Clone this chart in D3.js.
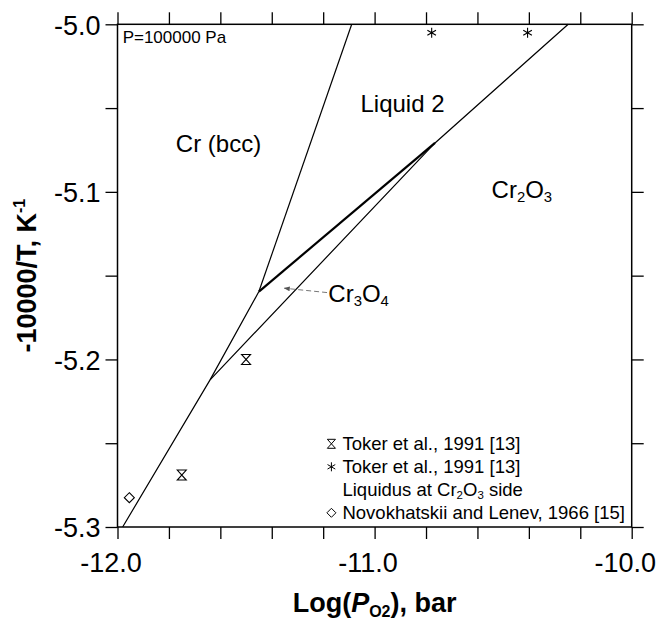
<!DOCTYPE html>
<html>
<head>
<meta charset="utf-8">
<script src="https://cdn.jsdelivr.net/npm/d3@7"></script>
<style>
  body { margin: 0; background: #fff; }
  svg { font-family: "Liberation Sans", Arial, sans-serif; }
</style>
</head>
<body>
<svg class="main-graphic"></svg>
<script>
// phase boundaries, [log pO2, -10000/T]
var crOxideLine = [[-11.980, -5.300], [-11.640, -5.2122], [-11.450, -5.1595]];
var crLiquidLine = [[-11.450, -5.1595], [-11.089, -5.000]];
var oxideLine = [[-11.640, -5.2122], [-10.765, -5.0708], [-10.247, -5.000]];
var cr3o4LiquidLine = [[-11.450, -5.1595], [-10.765, -5.0708]];

// experimental points
var tokerX = [-11.50, -11.75];
var tokerY = [-5.200, -5.269];
var liquidusX = [-10.778, -10.405];
var liquidusY = [-5.005, -5.005];
var novX = [-11.954];
var novY = [-5.2825];

var xTicks = [-12.0, -11.0, -10.0];
var yTicks = [-5.0, -5.1, -5.2, -5.3];

var margin = {top: 24.3, right: 25.3, bottom: 96, left: 117.5},
    width = 657 - margin.left - margin.right,
    height = 623 - margin.top - margin.bottom;

var svg = d3.select(".main-graphic")
    .attr("width", 657)
    .attr("height", 623);

var g = svg.append("g")
    .attr("transform", "translate(" + margin.left + "," + margin.top + ")");

var x = d3.scaleLinear().domain([-12, -10]).range([0, width]);
var y = d3.scaleLinear().domain([-5.3, -5.0]).range([height, 0]);

var minorX = d3.range(0, 11).map(function(i) { return -12 + i * 0.2; });
var minorY = d3.range(0, 7).map(function(i) { return -5.3 + i * 0.05; });

function isMajor(list, d) {
  return list.some(function(t) { return Math.abs(t - d) < 1e-6; });
}

function styleAxis(sel) {
  sel.select(".domain").remove();
  sel.selectAll(".tick line").attr("stroke", "#000").attr("stroke-width", 1.3);
  sel.selectAll(".tick text").attr("font-family", "Liberation Sans, Arial, sans-serif")
    .attr("font-size", 27).attr("fill", "#000");
}

g.append("g").attr("transform", "translate(0," + height + ")")
  .call(d3.axisBottom(x).tickValues(minorX).tickSize(12)
    .tickFormat(function(d) { return isMajor(xTicks, d) ? d3.format(".1f")(d).replace("\u2212", "-") : ""; }))
  .call(styleAxis)
  .selectAll(".tick text").attr("x", -7).attr("dy", "1.1em");

g.append("g")
  .call(d3.axisTop(x).tickValues(minorX).tickSize(12).tickFormat(""))
  .call(styleAxis);

g.append("g")
  .call(d3.axisLeft(y).tickValues(minorY).tickSize(12)
    .tickFormat(function(d) { return isMajor(yTicks, d) ? d3.format(".1f")(d).replace("\u2212", "-") : ""; }))
  .call(styleAxis)
  .selectAll(".tick text").attr("x", -17).attr("dy", "0.36em");

g.append("g").attr("transform", "translate(" + width + ",0)")
  .call(d3.axisRight(y).tickValues(minorY).tickSize(12).tickFormat(""))
  .call(styleAxis);

g.append("rect")
  .attr("width", width).attr("height", height)
  .attr("fill", "none").attr("stroke", "#000").attr("stroke-width", 1.5);

var line = d3.line()
    .x(function(d) { return x(d[0]); })
    .y(function(d) { return y(d[1]); });

[crOxideLine, crLiquidLine, oxideLine].forEach(function(pts) {
  g.append("path").attr("d", line(pts))
    .attr("fill", "none").attr("stroke", "#000").attr("stroke-width", 1.2);
});
g.append("path").attr("d", line(cr3o4LiquidLine))
  .attr("fill", "none").attr("stroke", "#000").attr("stroke-width", 2.2);

// symbols
var hourglass = "M-4.5,-5H4.5L-4.5,5H4.5Z";
var star = "M0,-5V5M-4.3,-2.5L4.3,2.5M-4.3,2.5L4.3,-2.5";
var diamond = "M0,-5L5,0L0,5L-5,0Z";

function drawSym(xs, ys, d) {
  g.selectAll(null).data(xs).enter().append("path")
    .attr("transform", function(v, i) { return "translate(" + x(v) + "," + y(ys[i]) + ")"; })
    .attr("d", d).attr("fill", "none").attr("stroke", "#000").attr("stroke-width", 1.1);
}
drawSym(tokerX, tokerY, hourglass);
drawSym(liquidusX, liquidusY, star);
drawSym(novX, novY, diamond);

// text with sub/superscript pieces: strings are normal, {t, dy} are small
function label(px, py, parts, size) {
  var t = g.append("text").attr("x", px).attr("y", py)
    .attr("font-size", size).attr("fill", "#000");
  parts.forEach(function(p) {
    if (typeof p === "string") t.append("tspan").text(p);
    else if (p.big) t.append("tspan").attr("dy", p.dy).text(p.t);
    else t.append("tspan").attr("font-size", size * 0.62).attr("dy", p.dy).text(p.t);
  });
  return t;
}

label(x(-11.98), y(-5.0112), ["P=100000 Pa"], 17);
label(x(-11.773), y(-5.0765), ["Cr (bcc)"], 24);
label(x(-11.055), y(-5.0525), ["Liquid 2"], 24);
label(x(-10.545), y(-5.1035), ["Cr", {t: "2", dy: 4}, {t: "O", dy: -4, big: true}, {t: "3", dy: 4}], 24);
label(x(-11.18), y(-5.1655), ["Cr", {t: "3", dy: 4}, {t: "O", dy: -4, big: true}, {t: "4", dy: 4}], 24);

// arrow to Cr3O4 field
svg.append("defs").append("marker")
    .attr("id", "ah").attr("viewBox", "0 0 10 10")
    .attr("refX", 9).attr("refY", 5)
    .attr("markerWidth", 6).attr("markerHeight", 6)
    .attr("orient", "auto")
  .append("path").attr("d", "M0,1L10,5L0,9Z").attr("fill", "#555");
g.append("line")
  .attr("x1", x(-11.185)).attr("y1", y(-5.1601))
  .attr("x2", x(-11.351)).attr("y2", y(-5.1575))
  .attr("stroke", "#777").attr("stroke-width", 1).attr("stroke-dasharray", "5,3")
  .attr("marker-end", "url(#ah)");

// legend
var legX = x(-11.125), legSym = x(-11.168);
var legRows = [
  {y: 425.5, sym: hourglass, text: ["Toker et al., 1991 [13]"]},
  {y: 448.5, sym: star, text: ["Toker et al., 1991 [13]"]},
  {y: 471.5, sym: null, text: ["Liquidus at Cr", {t: "2", dy: 3}, {t: "O", dy: -3, big: true}, {t: "3", dy: 3}, {t: " side", dy: -3, big: true}]},
  {y: 494.5, sym: diamond, text: ["Novokhatskii and Lenev, 1966 [15]"]}
];
legRows.forEach(function(r) {
  if (r.sym) {
    g.append("path").attr("transform", "translate(" + legSym + "," + (r.y - 6) + ") scale(0.9)")
      .attr("d", r.sym).attr("fill", "none").attr("stroke", "#000").attr("stroke-width", 1.1);
  }
  label(legX, r.y, r.text, 18.5);
});

// axis titles
svg.append("text")
  .attr("transform", "translate(36," + (margin.top + height / 2) + ") rotate(-90)")
  .attr("text-anchor", "middle").attr("font-size", 27).attr("font-weight", "bold")
  .call(function(t) {
    t.append("tspan").text("-10000/T, K");
    t.append("tspan").attr("font-size", 16).attr("dy", -11).text("-1");
  });

svg.append("text")
  .attr("x", margin.left + width / 2).attr("y", 612)
  .attr("text-anchor", "middle").attr("font-size", 27).attr("font-weight", "bold")
  .call(function(t) {
    t.append("tspan").text("Log(");
    t.append("tspan").attr("font-style", "italic").text("P");
    t.append("tspan").attr("font-size", 16).attr("dy", 5).text("O2");
    t.append("tspan").attr("dy", -5).text("), bar");
  });
</script>
</body>
</html>
